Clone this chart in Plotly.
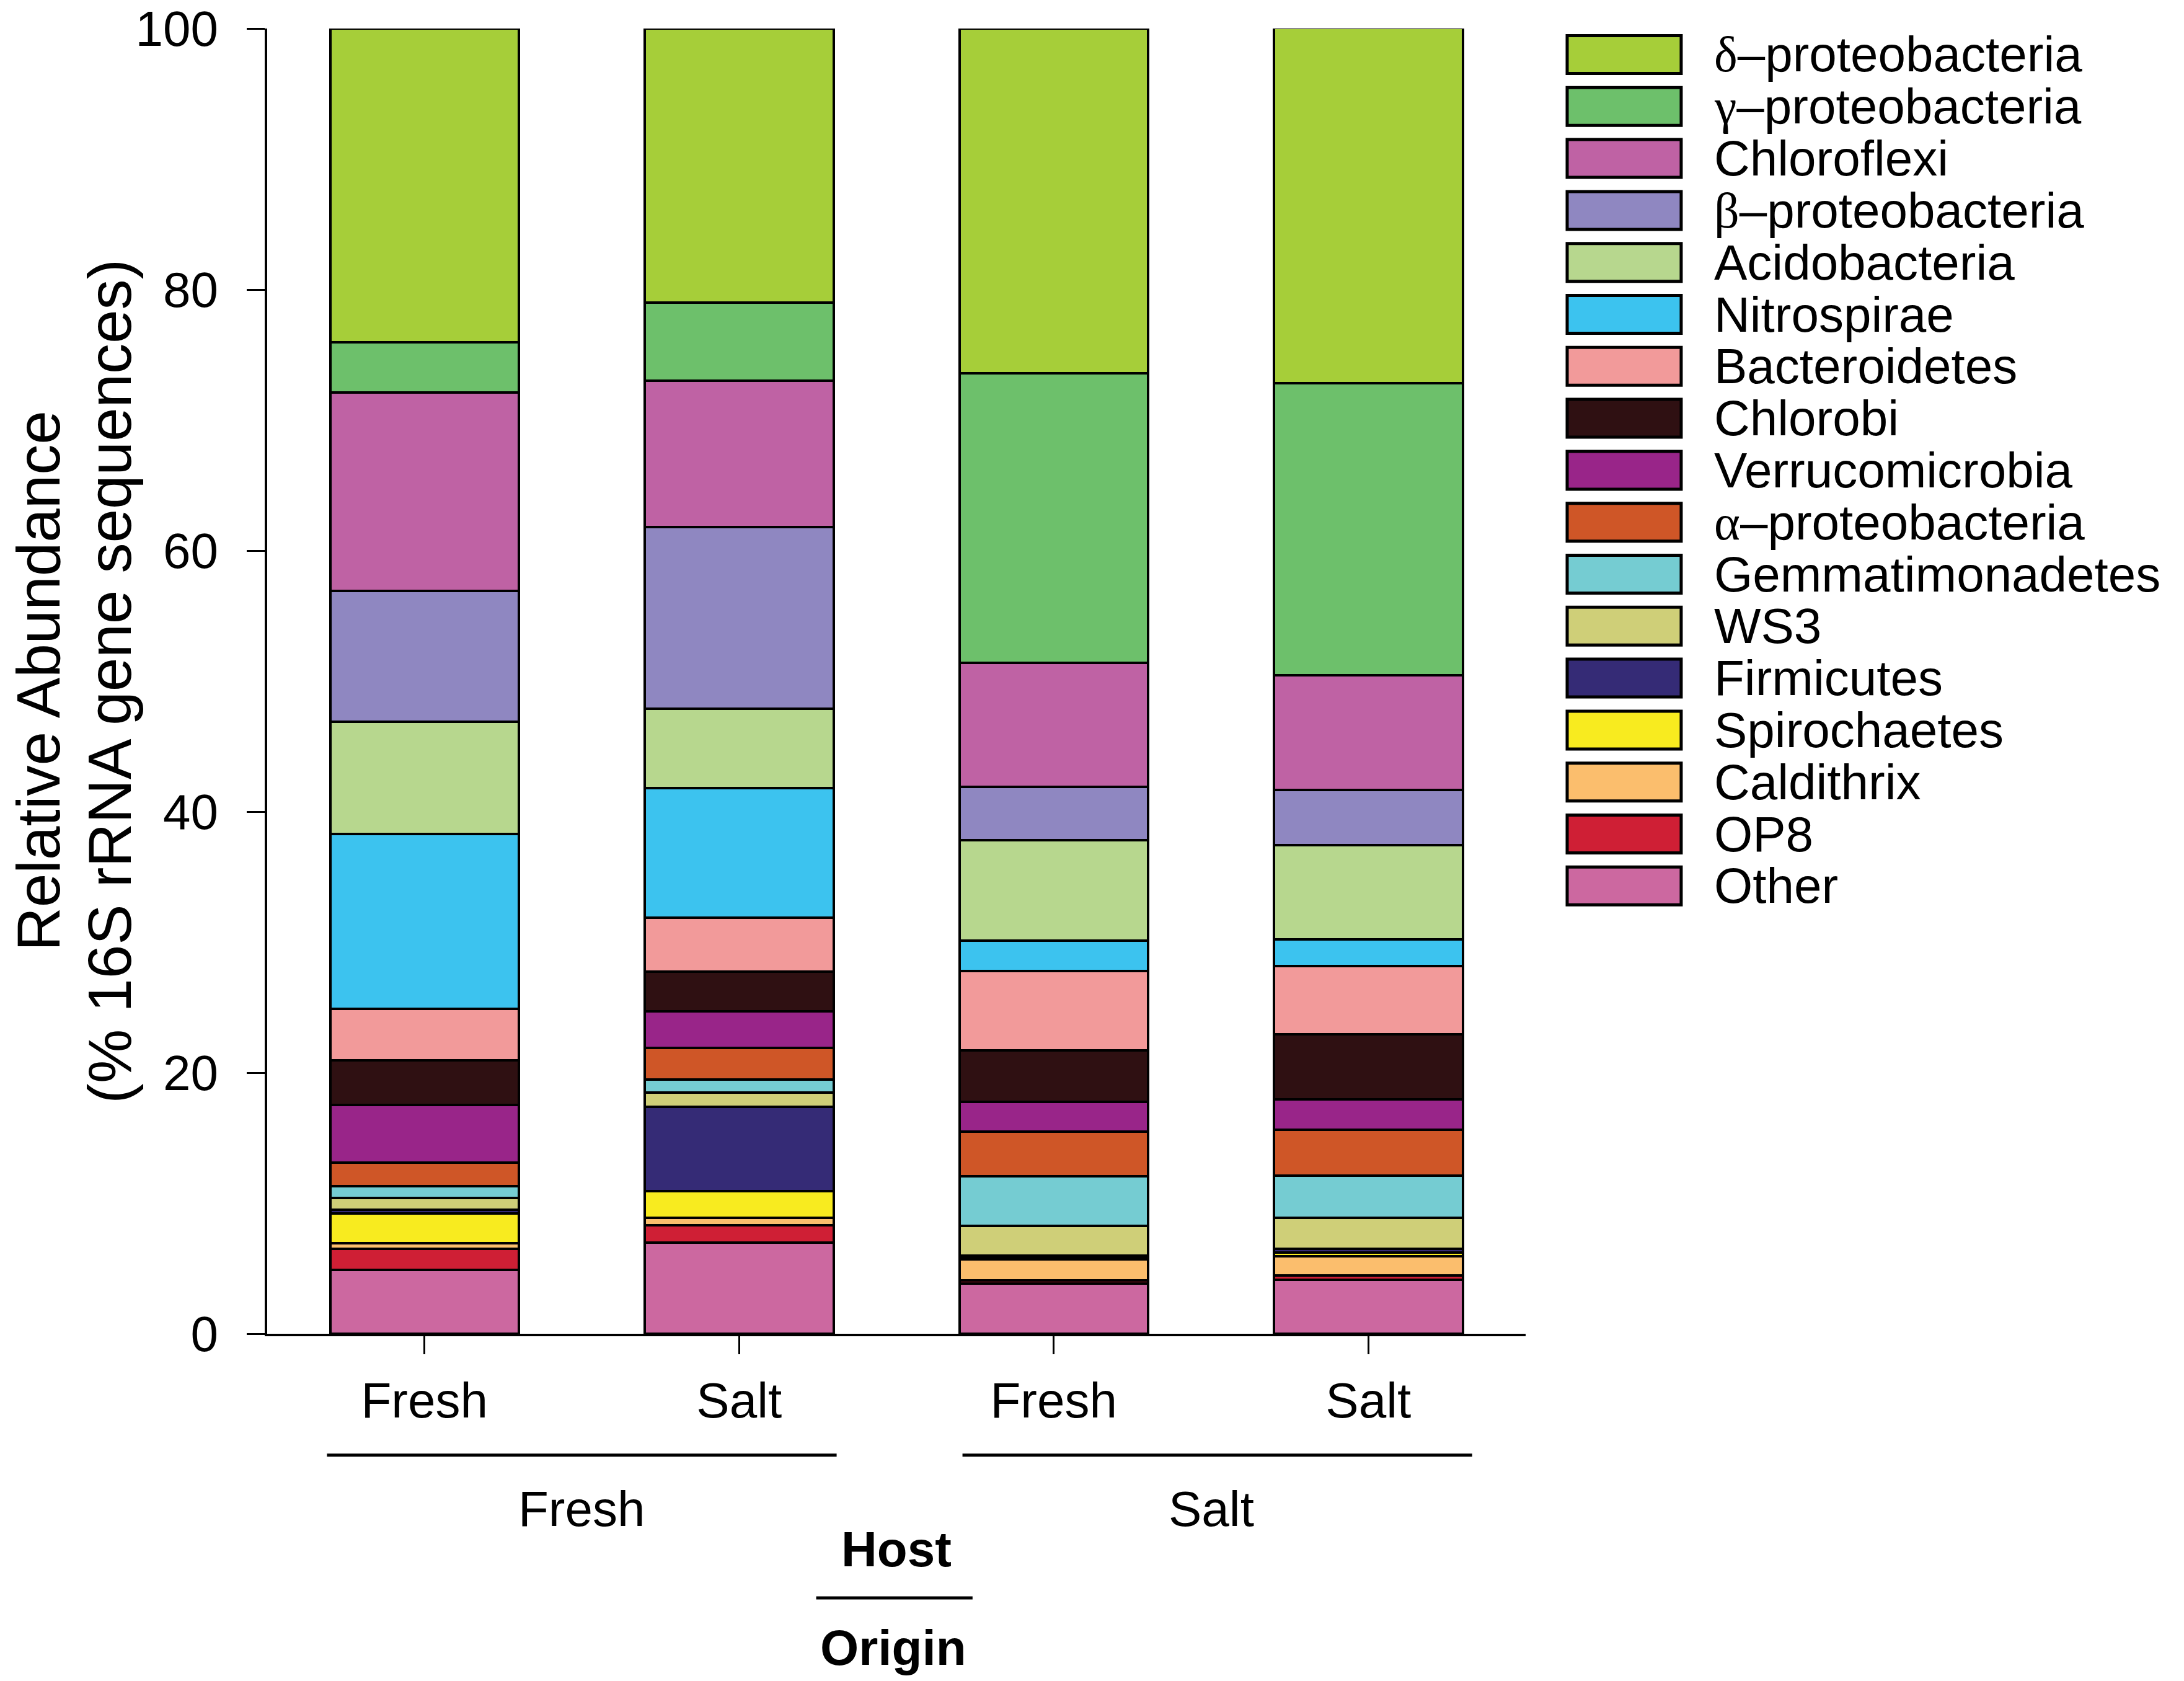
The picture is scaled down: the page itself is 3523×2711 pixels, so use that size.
import plotly.graph_objects as go

# taxa in legend order (top of the stack first)
taxa = ["δ–proteobacteria", "γ–proteobacteria", "Chloroflexi", "β–proteobacteria",
        "Acidobacteria", "Nitrospirae", "Bacteroidetes", "Chlorobi", "Verrucomicrobia",
        "α–proteobacteria", "Gemmatimonadetes", "WS3", "Firmicutes", "Spirochaetes",
        "Caldithrix", "OP8", "Other"]
colors = ["#A6CE39", "#6DC06B", "#BF62A4", "#8F87C1", "#B7D78E", "#3CC3EF", "#F29A9A",
          "#2F1012", "#992589", "#CF5627", "#75CCD2", "#CFCF78", "#352B76", "#F8EB1F",
          "#FBBE6D", "#CF1F35", "#CC68A0"]

# origin labels under each bar and host groups
origin_labels = ["Fresh", "Salt", "Fresh", "Salt"]
host_labels = ["Fresh", "Salt"]

# relative abundance (%) per sample, same order as taxa
fresh_fresh = [24.05, 3.85, 15.2, 10.0, 8.6, 13.4, 3.95, 3.4, 4.45, 1.8, 0.9, 0.9, 0.3, 2.25, 0.45, 1.6, 4.9]
fresh_salt = [21.0, 6.0, 11.2, 13.9, 6.1, 9.9, 4.15, 3.05, 2.8, 2.4, 1.0, 1.1, 6.45, 2.05, 0.6, 1.3, 7.0]
salt_fresh = [26.4, 22.2, 9.5, 4.1, 7.7, 2.3, 6.1, 3.95, 2.25, 3.45, 3.8, 2.25, 0.15, 0.15, 1.6, 0.25, 3.85]
salt_salt = [27.2, 22.4, 8.8, 4.2, 7.25, 2.05, 5.2, 5.0, 2.3, 3.55, 3.2, 2.4, 0.3, 0.25, 1.5, 0.3, 4.15]

samples = [fresh_fresh, fresh_salt, salt_fresh, salt_salt]
xpos = list(range(len(samples)))

FONT = "Liberation Sans"
SERIF = "Liberation Serif"

fig = go.Figure()
# plotly stacks in trace order, so add the bottom segment (Other) first
for i in reversed(range(len(taxa))):
    fig.add_trace(go.Bar(
        x=xpos,
        y=[s[i] for s in samples],
        name=taxa[i],
        width=0.6,
        marker=dict(color=colors[i], line=dict(color="black", width=4)),
        showlegend=False,
    ))


def label_html(name):
    # greek prefix drawn in a serif face, like the original figure
    if name[0] in "αβγδ":
        return f"<span style=\"font-family:'{SERIF}'\">{name[0]}</span>{name[1:]}"
    return name


shapes = []
annotations = []

# hand-made legend with large swatches
plot_h = 2105
row0 = 88 - 46
row_step = 83.8
half_h = 30.5
for i, name in enumerate(taxa):
    yc = 1 - (row0 + i * row_step) / plot_h
    shapes.append(dict(type="rect", xref="paper", yref="paper",
                       x0=1.033, x1=1.1236, y0=yc - half_h / plot_h, y1=yc + half_h / plot_h,
                       fillcolor=colors[i], line=dict(color="black", width=5)))
    annotations.append(dict(xref="paper", yref="paper", x=1.149, y=yc,
                            xanchor="left", yanchor="middle", showarrow=False,
                            text=label_html(name), font=dict(size=80, color="black")))

# host group lines and labels
group_spans = [(-0.31, 1.31), (1.71, 3.33)]
group_centers = [0.5, 2.5]
for (a, b), c, lab in zip(group_spans, group_centers, host_labels):
    shapes.append(dict(type="line", xref="x", yref="paper", x0=a, x1=b, y0=-0.093, y1=-0.093,
                       line=dict(color="black", width=5)))
    annotations.append(dict(xref="x", yref="paper", x=c, y=-0.134, xanchor="center",
                            yanchor="middle", showarrow=False, text=lab,
                            font=dict(size=80, color="black")))

# Host / Origin key
annotations.append(dict(xref="x", yref="paper", x=1.5, y=-0.1653, xanchor="center",
                        yanchor="middle", showarrow=False, text="<b>Host</b>",
                        font=dict(size=80, color="black")))
shapes.append(dict(type="line", xref="x", yref="paper", x0=1.245, x1=1.742, y0=-0.2024,
                   y1=-0.2024, line=dict(color="black", width=5)))
annotations.append(dict(xref="x", yref="paper", x=1.49, y=-0.2404, xanchor="center",
                        yanchor="middle", showarrow=False, text="<b>Origin</b>",
                        font=dict(size=80, color="black")))

# y axis title, two lines
annotations.append(dict(xref="paper", yref="paper", x=-0.182, y=0.5, xanchor="center",
                        yanchor="middle", textangle=-90, showarrow=False,
                        text="Relative Abundance", font=dict(size=98, color="black")))
annotations.append(dict(xref="paper", yref="paper", x=-0.1255, y=0.5, xanchor="center",
                        yanchor="middle", textangle=-90, showarrow=False,
                        text="(% 16S rRNA gene sequences)", font=dict(size=98, color="black")))

# page body adds an 8px margin, so the figure is a bit smaller than the window
fig.update_layout(
    barmode="stack",
    width=3507, height=2695, autosize=False,
    margin=dict(l=423, r=1054, t=38, b=552, autoexpand=False),
    plot_bgcolor="white", paper_bgcolor="white",
    font=dict(family=FONT, size=80, color="black"),
    shapes=shapes,
    annotations=annotations,
    xaxis=dict(range=[-0.5, 3.5], tickmode="array", tickvals=xpos, ticktext=origin_labels,
               showline=True, linecolor="black", linewidth=4, ticks="outside",
               ticklen=29, tickwidth=3, tickcolor="black", showgrid=False, zeroline=False,
               ticklabelstandoff=6, automargin=False, tickfont=dict(size=80)),
    yaxis=dict(range=[0, 100], tickvals=[0, 20, 40, 60, 80, 100], showline=True,
               linecolor="black", linewidth=4, ticks="outside", ticklen=29, tickwidth=3,
               tickcolor="black", showgrid=False, zeroline=False, automargin=False,
               ticklabelstandoff=30, ticklabeloverflow="allow", tickfont=dict(size=80)),
)

fig.write_html("out.html")
